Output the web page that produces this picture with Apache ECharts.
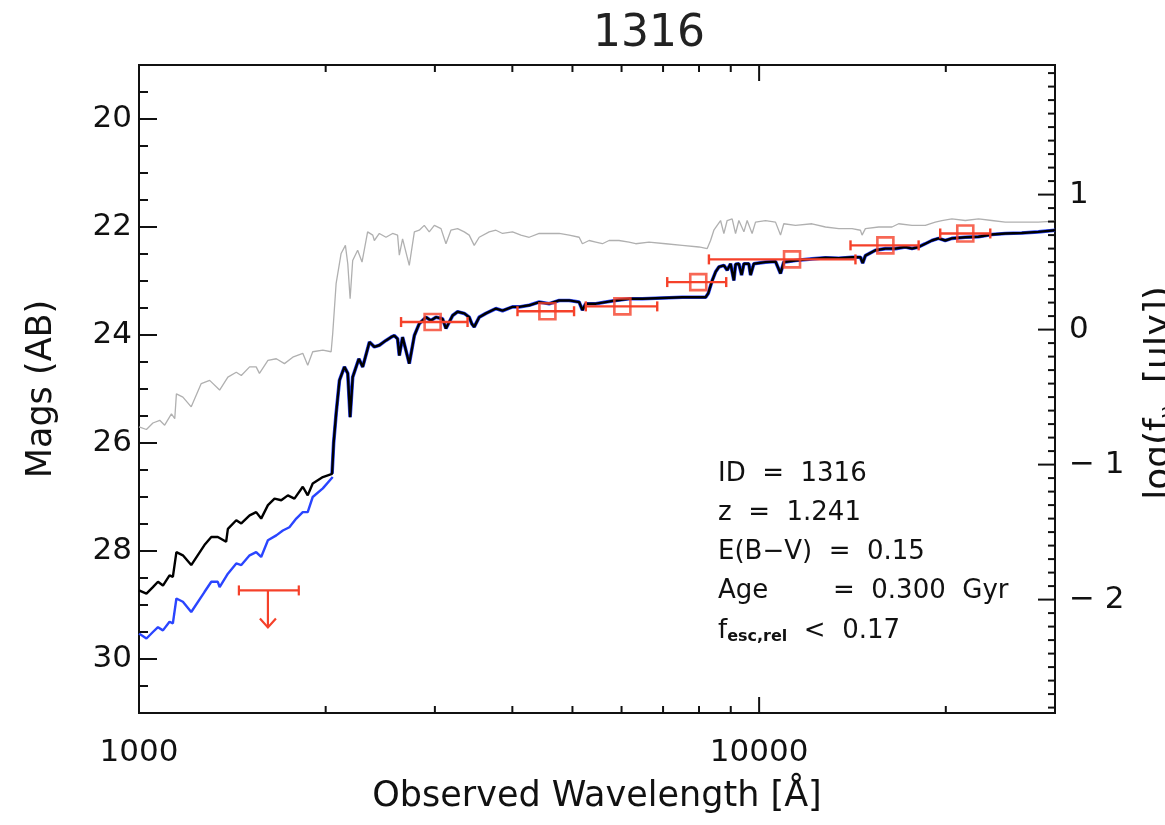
<!DOCTYPE html>
<html><head><meta charset="utf-8">
<script src="https://cdn.jsdelivr.net/npm/echarts@6/dist/echarts.min.js"></script>
<style>html,body{margin:0;padding:0;background:#fff}#c{width:1165px;height:825px}</style>
</head><body><div id="c"></div>
<script>
// ---------------- data ----------------
const titleText = '1316';
const xTickLabels = [1000, 10000];
const xMinorTicks = [2000, 3000, 4000, 5000, 6000, 7000, 8000, 9000, 20000];
const magTickLabels = [20, 22, 24, 26, 28, 30];
const logfTickLabels = [-2, -1, 0, 1];

// intrinsic (dust-free) model, grey
const grayLambda = [1000,1028,1053,1080,1100,1128,1142,1149,1177,1214,1260,1300,1349,1391,1435,1462,1508,1545,1564,1614,1665,1716,1770,1837,1871,1906,1979,2041,2053,2079,2118,2152,2171,2190,2211,2252,2289,2337,2382,2396,2441,2502,2564,2612,2629,2661,2728,2780,2831,2884,2938,2994,3069,3126,3184,3264,3346,3408,3472,3537,3670,3763,3857,4003,4129,4258,4419,4586,4760,4940,5126,5188,5319,5453,5588,5728,5944,6169,6324,6643,7069,7516,7997,8247,8350,8453,8558,8666,8773,8881,9047,9162,9276,9450,9565,9743,9867,10240,10627,10827,10959,11445,12170,12793,13443,14122,14568,14655,14838,15590,16377,16788,17640,18534,19233,19712,20459,21497,22585,23727,24938,26516,28202,30000];
const grayMag = [25.70,25.75,25.63,25.58,25.67,25.46,25.55,25.09,25.15,25.33,24.90,24.84,25.02,24.78,24.69,24.75,24.59,24.59,24.71,24.47,24.44,24.53,24.41,24.34,24.56,24.31,24.28,24.31,23.97,23.05,22.49,22.34,22.68,23.33,22.62,22.43,22.65,22.09,22.15,22.25,22.12,22.19,22.12,22.15,22.52,22.22,22.71,22.09,22.06,21.97,22.09,21.97,22.03,22.31,22.06,22.03,22.09,22.15,22.34,22.19,22.09,22.06,22.12,22.09,22.15,22.19,22.12,22.12,22.12,22.15,22.19,22.31,22.25,22.28,22.31,22.25,22.25,22.28,22.31,22.28,22.31,22.34,22.37,22.40,22.25,22.06,21.97,21.88,22.12,21.88,21.85,22.12,21.88,22.09,21.88,22.12,21.91,21.88,21.91,22.15,21.94,21.97,21.94,22.00,22.03,22.03,22.06,22.15,22.03,22.00,22.00,21.94,21.97,21.97,21.91,21.88,21.85,21.88,21.85,21.88,21.91,21.91,21.91,21.89];

// best-fit model (black)
const blackLambda = [1000,1028,1053,1073,1093,1120,1134,1149,1177,1214,1275,1308,1340,1382,1391,1435,1462,1508,1545,1574,1614,1654,1696,1738,1781,1837,1871,1906,1979,2048,2060,2079,2105,2144,2171,2190,2211,2262,2295,2353,2396,2441,2502,2549,2580,2612,2629,2661,2728,2780,2831,2903,2955,3012,3087,3126,3204,3264,3346,3408,3440,3472,3537,3626,3763,3857,4003,4102,4258,4419,4586,4760,4940,5126,5188,5254,5453,5657,5871,6169,6480,6811,7154,7516,7899,8199,8278,8402,8508,8613,8773,8881,8994,9105,9162,9276,9370,9450,9625,9687,9804,10240,10627,10827,10959,11445,12170,12793,13443,14122,14568,14690,14838,15400,15980,16590,17210,17640,18080,18534,18990,19470,19960,20459,21497,22585,23727,24938,26516,28202,30000];
const blackMag = [28.73,28.79,28.67,28.57,28.64,28.45,28.48,28.02,28.08,28.26,27.89,27.74,27.74,27.83,27.59,27.43,27.49,27.34,27.28,27.40,27.15,27.03,27.06,26.97,27.03,26.81,26.97,26.75,26.63,26.57,26.00,25.46,24.84,24.59,24.71,25.52,24.78,24.44,24.59,24.13,24.22,24.19,24.10,24.04,24.01,24.07,24.38,24.04,24.53,24.01,23.79,23.67,23.73,23.67,23.70,23.88,23.64,23.57,23.60,23.67,23.79,23.85,23.67,23.60,23.51,23.55,23.48,23.48,23.45,23.39,23.42,23.36,23.36,23.39,23.54,23.42,23.42,23.39,23.36,23.33,23.33,23.32,23.31,23.30,23.30,23.30,23.23,22.99,22.83,22.74,22.71,22.80,22.68,22.99,22.69,22.68,22.89,22.68,22.68,22.89,22.68,22.65,22.64,22.86,22.65,22.62,22.59,22.57,22.58,22.56,22.56,22.67,22.53,22.43,22.40,22.40,22.37,22.40,22.37,22.31,22.25,22.21,22.25,22.21,22.19,22.18,22.14,22.12,22.11,22.09,22.06];

// model without IGM (blue), below the Lyman break region
const blueLowLambda = [1000,1028,1053,1073,1093,1120,1134,1149,1177,1214,1275,1308,1340,1349,1391,1435,1462,1508,1545,1574,1614,1665,1706,1748,1793,1837,1871,1906,1979,2053];
const blueLowMag = [29.53,29.62,29.50,29.41,29.47,29.31,29.34,28.88,28.94,29.13,28.76,28.57,28.57,28.67,28.42,28.23,28.26,28.08,28.02,28.11,27.80,27.71,27.62,27.56,27.40,27.28,27.28,27.00,26.84,26.63];

// photometry with horizontal error bars (filter widths)
const photLambda = [2975, 4556, 6018, 7977, 11300, 15980, 21500];
const photMag    = [23.76, 23.56, 23.47, 23.02, 22.60, 22.34, 22.12];
const photLo     = [2646, 4077, 5254, 7109, 8299, 14040, 19590];
const photHi     = [3387, 5030, 6850, 8850, 14300, 18080, 23590];

// upper limit
const limLambda = [1614];
const limMag = [28.73];
const limLo = [1449];
const limHi = [1810];

const annotLines = ['ID  =  1316', 'z  =  1.241', 'E(B\u2212V)  =  0.15'];

// ---------------- chart ----------------
const X_MIN = 1000, X_MAX = 30000, Y_MIN = 19, Y_MAX = 31;
const AB_ZP = 23.9;
const RED = '#f5412a', BLUE = '#2a45ff', GRAY = '#b0b0b0';
const FONT = 'DejaVu Sans';
const mag2logf = m => (AB_ZP - m) / 2.5;

const pairs = (a, b) => a.map((v, i) => [v, b[i]]);
const blueUpLambda = blackLambda.filter(l => l >= 2048);
const blueUpMag = blackMag.filter((m, i) => blackLambda[i] >= 2048);

// tick marks: [x, y, length, side]
const ticks = [];
for (let m = 19.5; m < 31; m += 0.5) {
  const major = magTickLabels.includes(m);
  ticks.push([X_MIN, m, major ? 18 : 9, 0]);
}
for (let k = -28; k <= 19; k++) {
  const lf = k / 10;
  const major = logfTickLabels.includes(lf);
  ticks.push([X_MAX, AB_ZP - 2.5 * lf, major ? 17 : 7, 1]);
}
xTickLabels.concat(xMinorTicks).forEach(l => {
  const major = xTickLabels.includes(l);
  ticks.push([l, Y_MAX, major ? 16 : 7, 2]);
  ticks.push([l, Y_MIN, major ? 16 : 7, 3]);
});

const chart = echarts.init(document.getElementById('c'), null, {renderer: 'canvas'});
chart.setOption({
  animation: false,
  backgroundColor: '#fff',
  textStyle: {fontFamily: FONT},
  title: {text: titleText, left: 588, top: 8,
          textStyle: {fontFamily: FONT, fontSize: 44, fontWeight: 'normal', color: '#222'}},
  grid: {left: 139, top: 65, width: 916, height: 648, show: true,
         borderColor: '#111', borderWidth: 2, backgroundColor: 'transparent'},
  xAxis: [{
    type: 'log', logBase: 10, min: X_MIN, max: X_MAX, position: 'bottom',
    axisLine: {show: false}, axisTick: {show: false}, splitLine: {show: false},
    minorTick: {show: false},
    axisLabel: {fontFamily: FONT, fontSize: 31, color: '#111', margin: 24,
      showMinLabel: true, showMaxLabel: true,
      formatter: v => xTickLabels.includes(Math.round(v)) ? String(Math.round(v)) : ''},
    name: 'Observed Wavelength [Å]', nameLocation: 'middle', nameGap: 66,
    nameTextStyle: {fontFamily: FONT, fontSize: 35, color: '#111'}
  }],
  yAxis: [{
    type: 'value', inverse: true, min: Y_MIN, max: Y_MAX, position: 'left',
    axisLine: {show: false}, axisTick: {show: false}, splitLine: {show: false},
    axisLabel: {fontFamily: FONT, fontSize: 31, color: '#111', margin: 7,
      formatter: v => magTickLabels.includes(Math.round(v * 1000) / 1000) ? String(v) : ''},
    name: 'Mags (AB)', nameLocation: 'middle', nameRotate: 90, nameGap: 80,
    nameTextStyle: {fontFamily: FONT, fontSize: 35, color: '#111'}
  }, {
    type: 'value', min: mag2logf(Y_MAX), max: mag2logf(Y_MIN), position: 'right',
    axisLine: {show: false}, axisTick: {show: false}, splitLine: {show: false},
    axisLabel: {fontFamily: FONT, fontSize: 31, color: '#111', margin: 14,
      formatter: v => {
        const r = Math.round(v);
        if (Math.abs(v - r) > 1e-6 || !logfTickLabels.includes(r)) return '';
        return r < 0 ? '\u2212 ' + Math.abs(r) : String(r);
      }}
  }],
  graphic: [
    {type: 'text', x: 1160, y: 393, rotation: Math.PI / 2,
     style: {text: '{n|log(f}{s|\u03BD}{n|  [\u03BCJy])}', align: 'center', verticalAlign: 'middle',
       rich: {n: {fontFamily: FONT, fontSize: 36, fill: '#111'},
              s: {fontFamily: FONT, fontSize: 22, fill: '#111', verticalAlign: 'bottom', padding: [16, 0, 0, 0]}}}},
    {type: 'group', left: 718, top: 461, children: [
      {type: 'text', x: 0, y: 0, style: {text: annotLines[0], fontFamily: FONT, fontSize: 26, fill: '#111'}},
      {type: 'text', x: 0, y: 39, style: {text: annotLines[1], fontFamily: FONT, fontSize: 26, fill: '#111'}},
      {type: 'text', x: 0, y: 78, style: {text: annotLines[2], fontFamily: FONT, fontSize: 26, fill: '#111'}},
      {type: 'text', x: 0, y: 117, style: {text: '{a|Age}{b|=  0.300  Gyr}',
        rich: {a: {fontFamily: FONT, fontSize: 26, fill: '#111', width: 115},
               b: {fontFamily: FONT, fontSize: 26, fill: '#111'}}}},
      {type: 'text', x: 0, y: 156, style: {text: '{a|f}{s|esc,rel}{a|  <  0.17}',
        rich: {a: {fontFamily: FONT, fontSize: 26, fill: '#111'},
               s: {fontFamily: FONT, fontSize: 16, fontWeight: 'bold', fill: '#111', verticalAlign: 'bottom', padding: [12, 0, 0, 0]}}}}
    ]}
  ],
  series: [
    {type: 'line', name: 'intrinsic', data: pairs(grayLambda, grayMag), showSymbol: false, symbol: 'none',
     lineStyle: {color: GRAY, width: 1.3}, z: 2, silent: true},
    {type: 'line', name: 'noIGM', data: pairs(blueLowLambda, blueLowMag), showSymbol: false, symbol: 'none',
     lineStyle: {color: BLUE, width: 2.4}, z: 3, silent: true},
    {type: 'line', name: 'noIGM-red', data: pairs(blueUpLambda, blueUpMag), showSymbol: false, symbol: 'none',
     lineStyle: {color: BLUE, width: 3.6}, z: 3, silent: true},
    {type: 'line', name: 'model', data: pairs(blackLambda, blackMag), showSymbol: false, symbol: 'none',
     lineStyle: {color: '#000', width: 2.4}, z: 4, silent: true},
    {type: 'custom', name: 'xerr', z: 5, silent: true,
     data: photLo.map((l, i) => [l, photMag[i], photHi[i]]),
     encode: {x: [0, 2], y: 1},
     renderItem: (params, api) => {
       const a = api.coord([api.value(0), api.value(1)]);
       const b = api.coord([api.value(2), api.value(1)]);
       const st = {stroke: RED, lineWidth: 2.4};
       return {type: 'group', children: [
         {type: 'line', shape: {x1: a[0], y1: a[1], x2: b[0], y2: b[1]}, style: st},
         {type: 'line', shape: {x1: a[0], y1: a[1] - 5, x2: a[0], y2: a[1] + 5}, style: st},
         {type: 'line', shape: {x1: b[0], y1: b[1] - 5, x2: b[0], y2: b[1] + 5}, style: st}
       ]};
     }},
    {type: 'scatter', name: 'phot', data: pairs(photLambda, photMag), symbol: 'rect', symbolSize: 16, z: 6,
     silent: true, itemStyle: {color: 'rgba(255,255,255,0)', borderColor: RED, borderWidth: 2.6}},
    {type: 'custom', name: 'limit', z: 5, silent: true,
     data: limLambda.map((l, i) => [l, limMag[i], limLo[i], limHi[i]]),
     encode: {x: [0, 2, 3], y: 1},
     renderItem: (params, api) => {
       const c = api.coord([api.value(0), api.value(1)]);
       const a = api.coord([api.value(2), api.value(1)]);
       const b = api.coord([api.value(3), api.value(1)]);
       const st = {stroke: RED, lineWidth: 2.2};
       const tipY = c[1] + 37;
       return {type: 'group', children: [
         {type: 'line', shape: {x1: a[0], y1: a[1], x2: b[0], y2: b[1]}, style: st},
         {type: 'line', shape: {x1: a[0], y1: a[1] - 5, x2: a[0], y2: a[1] + 5}, style: st},
         {type: 'line', shape: {x1: b[0], y1: b[1] - 5, x2: b[0], y2: b[1] + 5}, style: st},
         {type: 'line', shape: {x1: c[0], y1: c[1], x2: c[0], y2: tipY}, style: st},
         {type: 'polyline', shape: {points: [[c[0] - 8, tipY - 9], [c[0], tipY], [c[0] + 8, tipY - 9]]}, style: Object.assign({fill: null}, st)}
       ]};
     }},
    {type: 'custom', name: 'ticks', z: 7, silent: true, clip: false,
     data: ticks, encode: {x: 0, y: 1},
     renderItem: (params, api) => {
       const p = api.coord([api.value(0), api.value(1)]);
       const len = api.value(2), side = api.value(3);
       let x2 = p[0], y2 = p[1];
       if (side === 0) x2 += len; else if (side === 1) x2 -= len;
       else if (side === 2) y2 -= len; else y2 += len;
       return {type: 'line', shape: {x1: p[0], y1: p[1], x2: x2, y2: y2},
               style: {stroke: '#111', lineWidth: 2}};
     }}
  ]
});
</script></body></html>
